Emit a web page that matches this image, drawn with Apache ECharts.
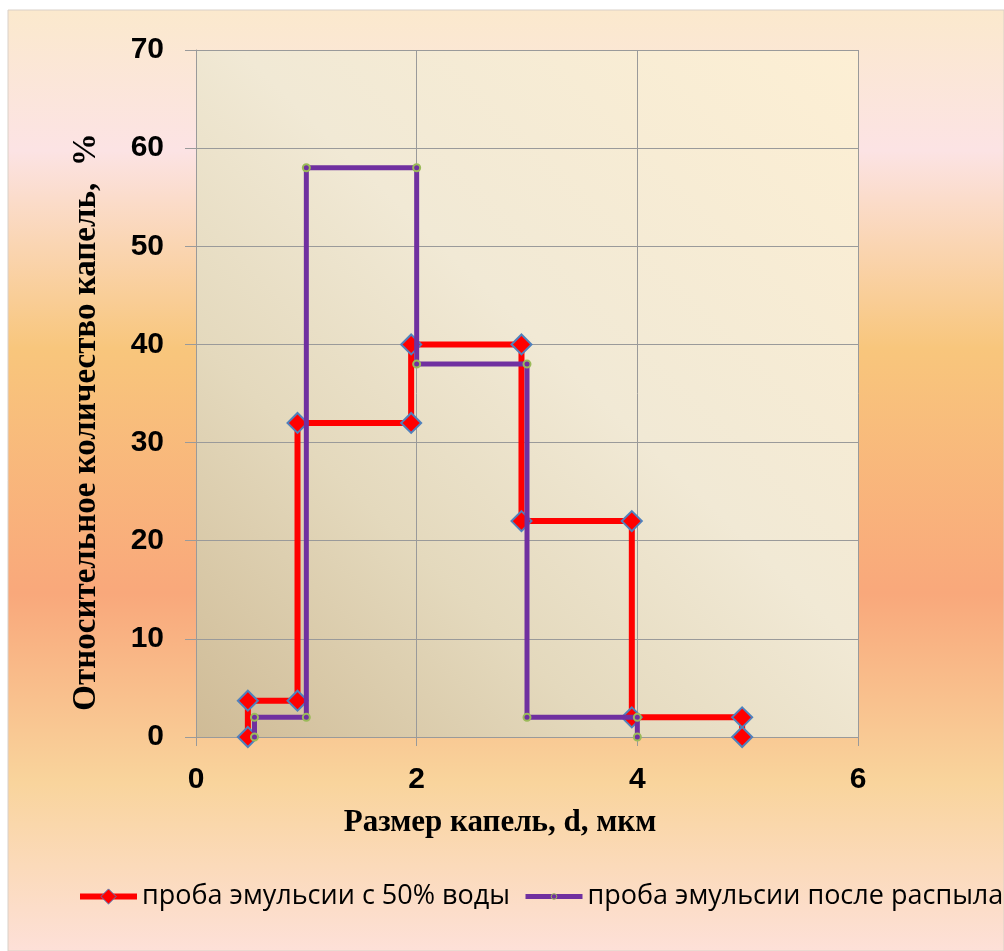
<!DOCTYPE html>
<html>
<head>
<meta charset="utf-8">
<script src="https://cdn.jsdelivr.net/npm/echarts@6/dist/echarts.min.js"></script>
<style>
  html, body { margin: 0; padding: 0; background: #ffffff; }
  #chart { width: 1004px; height: 951px; }
</style>
</head>
<body>
<div id="chart"></div>
<script>
// Droplet size distribution: two stepped series (size, d in µm vs share of droplets, %)
const seriesNames = ['проба эмульсии с 50% воды', 'проба эмульсии после распыла'];

// Sample with 50% water
const waterX = [0.47, 0.47, 0.92, 0.92, 1.95, 1.95, 2.95, 2.95, 3.95, 3.95, 4.95, 4.95];
const waterY = [0, 3.7, 3.7, 32, 32, 40, 40, 22, 22, 2, 2, 0];

// Sample after spraying
const sprayX = [0.53, 0.53, 1.0, 1.0, 2.0, 2.0, 3.0, 3.0, 4.0, 4.0];
const sprayY = [0, 2, 2, 58, 58, 38, 38, 2, 2, 0];

const xTicks = [0, 2, 4, 6];
const yTicks = [0, 10, 20, 30, 40, 50, 60, 70];

const xTitle = 'Размер капель, d, мкм';
const yTitle = 'Относительное количество капель,  %';

const pairs = (xs, ys) => xs.map((x, i) => [x, ys[i]]);

const chart = echarts.init(document.getElementById('chart'), null, { renderer: 'canvas' });

const gridColor = '#9a9a9a';
const waterColor = '#ff0000';
const sprayColor = '#7030a0';

const legendText = {
  fontFamily: '"Open Sans", "Noto Sans", sans-serif',
  fontSize: 27,
  color: '#000000'
};
const legendTop = 878;

chart.setOption({
  animation: false,
  backgroundColor: '#ffffff',
  graphic: [
    {
      type: 'rect',
      z: -10,
      silent: true,
      shape: { x: 8, y: 10, width: 996, height: 941 },
      style: {
        fill: new echarts.graphic.LinearGradient(0, 0, 0, 1, [
          { offset: 0.0, color: '#fbe9cd' },
          { offset: 0.15, color: '#fce3e4' },
          { offset: 0.36, color: '#f8c67c' },
          { offset: 0.62, color: '#f9a87b' },
          { offset: 0.82, color: '#f9d49c' },
          { offset: 1.0, color: '#fde0d8' }
        ]),
        stroke: '#d9d0c8',
        lineWidth: 1
      }
    },
    {
      type: 'text',
      x: 500,
      y: 823,
      silent: true,
      style: {
        text: xTitle,
        font: 'bold 31px "Liberation Serif", "DejaVu Serif", serif',
        fill: '#000000',
        align: 'center',
        verticalAlign: 'middle'
      }
    },
    {
      type: 'text',
      x: 86,
      y: 422,
      rotation: Math.PI / 2,
      silent: true,
      style: {
        text: yTitle,
        font: 'bold 33px "Liberation Serif", "DejaVu Serif", serif',
        fill: '#000000',
        align: 'center',
        verticalAlign: 'middle'
      }
    }
  ],
  grid: {
    left: 196,
    right: 146,
    top: 50,
    bottom: 214,
    show: true,
    borderWidth: 0,
    backgroundColor: new echarts.graphic.LinearGradient(0, 1, 1, 0, [
      { offset: 0.0, color: '#cfbb96' },
      { offset: 0.3, color: '#e4d9bd' },
      { offset: 0.55, color: '#f1e9d5' },
      { offset: 1.0, color: '#fdefd4' }
    ])
  },
  legend: [
    {
      left: 72,
      top: legendTop,
      itemWidth: 57,
      itemHeight: 19,
      selectedMode: false,
      textStyle: legendText,
      data: [{
        name: seriesNames[0],
        lineStyle: { width: 6, color: waterColor },
        itemStyle: { color: waterColor, borderColor: '#4f81bd', borderWidth: 1 }
      }]
    },
    {
      left: 518,
      top: legendTop,
      itemWidth: 57,
      itemHeight: 7,
      selectedMode: false,
      textStyle: legendText,
      data: [{
        name: seriesNames[1],
        lineStyle: { width: 5, color: sprayColor },
        itemStyle: { color: sprayColor, borderColor: '#9bbb59', borderWidth: 1 }
      }]
    }
  ],
  xAxis: {
    type: 'value',
    min: 0,
    max: 6,
    interval: 2,
    axisLine: { show: true, onZero: false, lineStyle: { color: gridColor, width: 1 } },
    axisTick: { show: true, length: 9, lineStyle: { color: gridColor } },
    splitLine: { show: true, lineStyle: { color: gridColor, width: 1 } },
    axisLabel: {
      margin: 28,
      color: '#000000',
      fontFamily: '"Liberation Sans", Arial, sans-serif',
      fontWeight: 'bold',
      fontSize: 30,
      formatter: v => (xTicks.indexOf(v) >= 0 ? String(v) : '')
    }
  },
  yAxis: {
    type: 'value',
    min: 0,
    max: 70,
    interval: 10,
    axisLine: { show: true, onZero: false, lineStyle: { color: gridColor, width: 1 } },
    axisTick: { show: true, length: 11, lineStyle: { color: gridColor } },
    splitLine: { show: true, lineStyle: { color: gridColor, width: 1 } },
    axisLabel: {
      margin: 32,
      color: '#000000',
      fontFamily: '"Liberation Sans", Arial, sans-serif',
      fontWeight: 'bold',
      fontSize: 30,
      formatter: v => (yTicks.indexOf(v) >= 0 ? String(v) : '')
    }
  },
  series: [
    {
      name: seriesNames[0],
      type: 'line',
      data: pairs(waterX, waterY),
      symbol: 'diamond',
      symbolSize: 20,
      showAllSymbol: true,
      lineStyle: { color: waterColor, width: 6 },
      itemStyle: { color: waterColor, borderColor: '#4f81bd', borderWidth: 2 },
      z: 2
    },
    {
      name: seriesNames[1],
      type: 'line',
      data: pairs(sprayX, sprayY),
      symbol: 'circle',
      symbolSize: 7,
      showAllSymbol: true,
      lineStyle: { color: sprayColor, width: 5 },
      itemStyle: { color: sprayColor, borderColor: '#9bbb59', borderWidth: 2 },
      z: 3
    }
  ]
});
</script>
</body>
</html>
